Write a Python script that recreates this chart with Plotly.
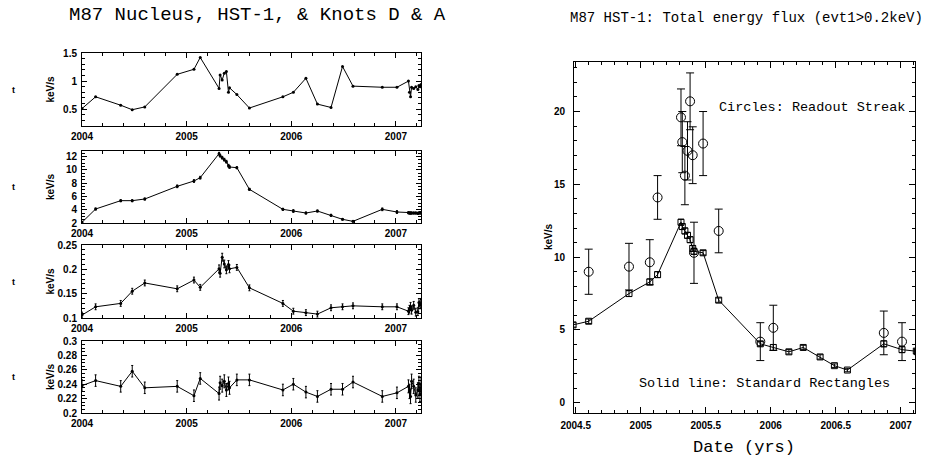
import plotly.graph_objects as go

# ---------------- data ----------------
dates = [2004.00, 2004.13, 2004.37, 2004.48, 2004.60, 2004.91, 2005.07, 2005.13,
         2005.31, 2005.32, 2005.34, 2005.36, 2005.38, 2005.40, 2005.41, 2005.48,
         2005.60, 2005.92, 2006.02, 2006.14, 2006.25, 2006.38, 2006.49, 2006.59,
         2006.87, 2007.01, 2007.12, 2007.13, 2007.14, 2007.15, 2007.17, 2007.19,
         2007.21, 2007.22, 2007.23, 2007.24]

nucleus = [0.51, 0.72, 0.57, 0.49, 0.54, 1.12, 1.21, 1.42,
           0.87, 1.11, 1.02, 1.14, 1.17, 0.80, 0.88, 0.76,
           0.52, 0.72, 0.80, 1.05, 0.59, 0.53, 1.26, 0.91,
           0.89, 0.89, 1.00, 0.80, 0.72, 0.89, 0.87, 0.90,
           0.85, 0.92, 0.90, 0.94]

hst1 = [2.1, 4.1, 5.35, 5.35, 5.6, 7.5, 8.3, 8.8,
        12.4, 12.1, 11.8, 11.5, 11.2, 10.6, 10.4, 10.3,
        7.05, 4.05, 3.8, 3.5, 3.8, 3.15, 2.55, 2.25,
        4.05, 3.65, 3.55, 3.5, 3.5, 3.5, 3.5, 3.5,
        3.45, 3.5, 3.55, 3.5]
hst1_err = [0.15, 0.15, 0.15, 0.15, 0.15, 0.2, 0.2, 0.2,
            0.2, 0.2, 0.2, 0.2, 0.2, 0.2, 0.2, 0.15,
            0.15, 0.15, 0.2, 0.15, 0.15, 0.15, 0.12, 0.12,
            0.2, 0.2, 0.15, 0.15, 0.15, 0.15, 0.15, 0.15,
            0.15, 0.15, 0.15, 0.15]

knot_d = [0.106, 0.123, 0.130, 0.155, 0.172, 0.160, 0.178, 0.163,
          0.201, 0.192, 0.225, 0.211, 0.199, 0.210, 0.201, 0.204,
          0.162, 0.130, 0.114, 0.111, 0.108, 0.121, 0.123, 0.125,
          0.123, 0.123, 0.114, 0.118, 0.124, 0.116, 0.126, 0.112,
          0.113, 0.132, 0.127, 0.130]
knot_d_err = [0.006, 0.006, 0.006, 0.006, 0.006, 0.006, 0.006, 0.006,
              0.008, 0.008, 0.008, 0.008, 0.008, 0.008, 0.008, 0.006,
              0.006, 0.006, 0.006, 0.006, 0.006, 0.006, 0.006, 0.006,
              0.006, 0.006, 0.007, 0.008, 0.008, 0.008, 0.008, 0.008,
              0.008, 0.008, 0.008, 0.008]

knot_a = [0.238, 0.245, 0.237, 0.258, 0.235, 0.237, 0.224, 0.248,
          0.227, 0.242, 0.238, 0.244, 0.232, 0.241, 0.235, 0.246,
          0.246, 0.232, 0.240, 0.229, 0.223, 0.233, 0.233, 0.243,
          0.223, 0.228, 0.237, 0.230, 0.223, 0.244, 0.237, 0.225,
          0.232, 0.241, 0.226, 0.240]
knot_a_err = [0.008, 0.008, 0.008, 0.008, 0.008, 0.008, 0.008, 0.008,
              0.009, 0.009, 0.009, 0.009, 0.009, 0.009, 0.009, 0.008,
              0.008, 0.008, 0.008, 0.008, 0.008, 0.008, 0.008, 0.008,
              0.008, 0.008, 0.009, 0.010, 0.010, 0.010, 0.010, 0.010,
              0.010, 0.010, 0.010, 0.010]

streak_dates = [2004.60, 2004.91, 2005.07, 2005.13, 2005.31, 2005.32, 2005.34,
                2005.36, 2005.38, 2005.40, 2005.41, 2005.48, 2005.60, 2005.92,
                2006.02, 2006.87, 2007.01]
streak = [9.0, 9.35, 9.65, 14.1, 19.6, 17.9, 15.6, 17.3, 20.7, 17.0, 10.3,
          17.8, 11.8, 4.2, 5.15, 4.8, 4.2]
streak_err = [1.55, 1.6, 1.55, 1.5, 1.95, 2.1, 2.0, 2.0, 1.95, 1.95, 2.1,
              2.2, 1.5, 1.3, 1.55, 1.5, 1.3]

left_xticks = [2004, 2005, 2006, 2007]
right_xticks = [2004.5, 2005, 2005.5, 2006, 2006.5, 2007]
right_xlabels = ["2004.5", "2005", "2005.5", "2006", "2006.5", "2007"]

left_title = "M87 Nucleus, HST-1, & Knots D & A"
right_title = "M87 HST-1: Total energy flux (evt1>0.2keV)"

# ---------------- figure ----------------
W, H = 925, 460
BLACK = "black"
SERIF = "Liberation Mono"
SANS = "Liberation Sans"

fig = go.Figure()


def fx(sx):
    return sx / W


def fy(sy):
    return 1 - sy / H


def px_x(a, b):
    return [fx(a), fx(b)]


def px_y(top, bottom):
    return [fy(bottom), fy(top)]


panels = [
    (nucleus, None, (53, 126), [0.2, 1.5], 0.5, 0.1),
    (hst1, hst1_err, (151, 223), [2.0, 12.8], 2, 0.5),
    (knot_d, knot_d_err, (245, 318), [0.1, 0.25], 0.05, 0.01),
    (knot_a, knot_a_err, (341, 413), [0.2, 0.3], 0.02, 0.005),
]

left_dom = px_x(82, 421)
tickfont = dict(family=SANS, size=10, color=BLACK, weight="bold")

common = dict(ticks="inside", tickwidth=1, tickcolor=BLACK,
              showline=True, linecolor=BLACK, linewidth=1,
              mirror="allticks", showgrid=False, zeroline=False,
              tickfont=tickfont, automargin=False)


def note(sx, sy, text, font, angle=0):
    fig.add_annotation(x=fx(sx), y=fy(sy), xref="paper", yref="paper",
                       xanchor="center", yanchor="middle", text=text,
                       textangle=angle, showarrow=False, font=font)


for i, (vals, errs, (top, bot), yr, ydt, ymn) in enumerate(panels, start=1):
    xa = "x" if i == 1 else f"x{i}"
    ya = "y" if i == 1 else f"y{i}"
    tr = dict(x=dates, y=vals, mode="lines+markers", xaxis=xa, yaxis=ya,
              line=dict(color=BLACK, width=1),
              marker=dict(color=BLACK, size=3, symbol="circle"),
              showlegend=False, hoverinfo="skip")
    if errs is not None:
        tr["error_y"] = dict(type="data", array=errs, visible=True,
                             color=BLACK, thickness=1, width=1)
    fig.add_trace(go.Scatter(**tr))
    xkey = "xaxis" if i == 1 else f"xaxis{i}"
    ykey = "yaxis" if i == 1 else f"yaxis{i}"
    fig.layout[xkey] = dict(domain=left_dom, anchor=ya, range=[2004.0, 2007.24],
                            tickmode="array", tickvals=left_xticks,
                            ticktext=[str(v) for v in left_xticks], ticklen=5,
                            minor=dict(ticks="inside", ticklen=3, dtick=0.2,
                                       tick0=2004, tickcolor=BLACK, showgrid=False),
                            ticklabelstandoff=1, **common)
    fig.layout[ykey] = dict(domain=px_y(top, bot), anchor=xa, range=yr,
                            tickmode="linear", tick0=0, dtick=ydt, ticklen=5,
                            minor=dict(ticks="inside", ticklen=3, dtick=ymn,
                                       tick0=0, tickcolor=BLACK, showgrid=False),
                            ticklabelstandoff=2, **common)
    ymid_px = (top + bot) / 2
    note(50, ymid_px, "keV/s", dict(family=SANS, size=10, color=BLACK, weight="bold"), -90)
    note(13, ymid_px, "t", dict(family=SANS, size=9, color=BLACK, weight="bold"))

# ---- right panel ----
fig.add_trace(go.Scatter(
    x=dates, y=hst1, mode="lines+markers", xaxis="x5", yaxis="y5",
    line=dict(color=BLACK, width=1),
    marker=dict(color=BLACK, size=6, symbol="square-open", line=dict(width=1)),
    error_y=dict(type="data", array=hst1_err, visible=True, color=BLACK,
                 thickness=1, width=3),
    showlegend=False, hoverinfo="skip"))
fig.add_trace(go.Scatter(
    x=streak_dates, y=streak, mode="markers", xaxis="x5", yaxis="y5",
    marker=dict(color=BLACK, size=9, symbol="circle-open", line=dict(width=1)),
    error_y=dict(type="data", array=streak_err, visible=True, color=BLACK,
                 thickness=1, width=4),
    showlegend=False, hoverinfo="skip"))

fig.layout["xaxis5"] = dict(domain=px_x(574, 915), anchor="y5",
                            range=[2004.487, 2007.11],
                            tickmode="array", tickvals=right_xticks,
                            ticktext=right_xlabels, ticklen=6,
                            minor=dict(ticks="inside", ticklen=3, dtick=0.1,
                                       tick0=2004.5, tickcolor=BLACK, showgrid=False),
                            ticklabelstandoff=3, **common)
fig.layout["yaxis5"] = dict(domain=px_y(62, 413), anchor="x5",
                            range=[-0.7, 23.4],
                            tickmode="linear", tick0=0, dtick=5, ticklen=6,
                            minor=dict(ticks="inside", ticklen=3, dtick=1,
                                       tick0=0, tickcolor=BLACK, showgrid=False),
                            ticklabelstandoff=6, **common)

# titles and labels
note(257, 15, left_title, dict(family=SERIF, size=19, color=BLACK))
note(746, 18, right_title, dict(family=SERIF, size=14, color=BLACK))
note(744, 447, "Date (yrs)", dict(family=SERIF, size=17, color=BLACK))
note(548, 237, "keV/s", dict(family=SANS, size=10, color=BLACK, weight="bold"), -90)
note(812, 107, "Circles: Readout Streak", dict(family=SERIF, size=13.5, color=BLACK))
note(764, 383, "Solid line: Standard Rectangles", dict(family=SERIF, size=13.5, color=BLACK))

fig.update_layout(width=W, height=H, margin=dict(l=0, r=0, t=0, b=0, pad=0),
                  paper_bgcolor="white", plot_bgcolor="white")

# remove the default 8px page margin so the figure fills the window exactly
fig.write_html("out.html",
               config={"displayModeBar": False, "staticPlot": True},
               post_script="document.body.style.margin='0';"
                           "document.documentElement.style.overflow='hidden';")
